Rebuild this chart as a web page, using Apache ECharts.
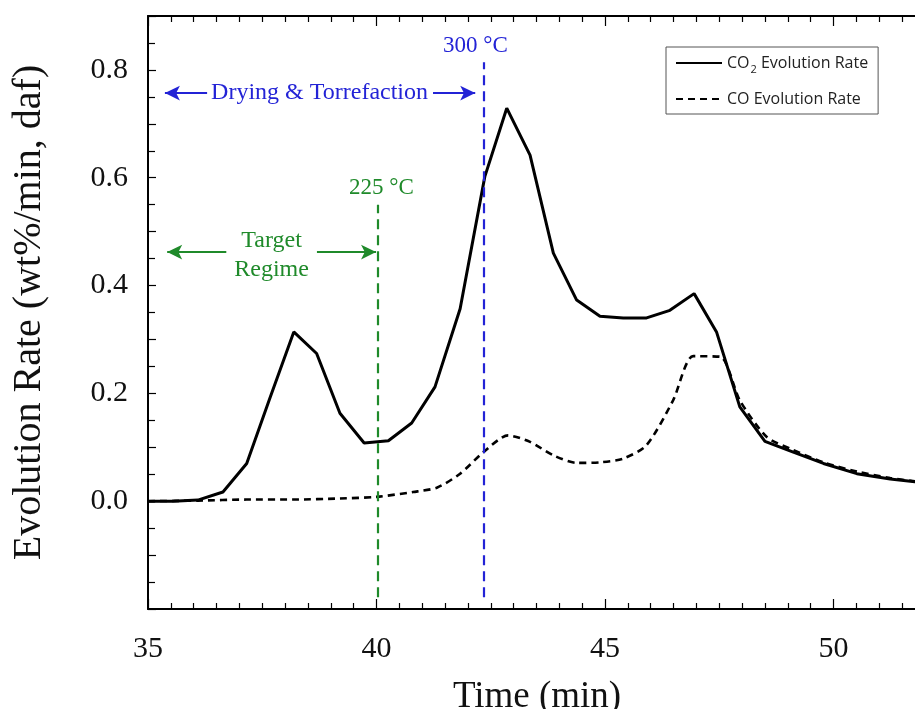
<!DOCTYPE html>
<html>
<head>
<meta charset="utf-8">
<script src="https://cdn.jsdelivr.net/npm/echarts@6/dist/echarts.min.js"></script>
<style>
html, body { margin: 0; padding: 0; background: #fff; }
#main { width: 915px; height: 709px; }
</style>
</head>
<body>
<div id="main"></div>
<script>
// CO2 evolution rate (time in min, wt%/min daf)
var co2Time = [35.0, 35.55, 36.09, 36.64, 37.16, 37.67, 38.19, 38.69, 39.20, 39.73, 40.26, 40.77, 41.28, 41.83, 42.37, 42.85, 43.36, 43.87, 44.38, 44.89, 45.40, 45.91, 46.42, 46.95, 47.44, 47.95, 48.50, 49.12, 49.78, 50.51, 51.24, 51.78, 52.2];
var co2Rate = [0.0, 0.0, 0.002, 0.017, 0.070, 0.192, 0.314, 0.274, 0.163, 0.108, 0.112, 0.145, 0.212, 0.357, 0.602, 0.729, 0.642, 0.460, 0.373, 0.343, 0.340, 0.340, 0.354, 0.385, 0.314, 0.175, 0.111, 0.091, 0.070, 0.051, 0.041, 0.036, 0.033];
// CO evolution rate
var coTime = [35.0, 36.09, 37.16, 38.19, 39.20, 40.0, 40.80, 41.32, 41.83, 42.34, 42.88, 43.36, 43.87, 44.38, 44.89, 45.40, 45.91, 46.49, 46.93, 47.52, 47.95, 48.54, 49.12, 49.78, 50.51, 51.24, 51.78, 52.2];
var coRate = [0.0, 0.001, 0.003, 0.003, 0.005, 0.008, 0.017, 0.025, 0.051, 0.091, 0.122, 0.110, 0.085, 0.071, 0.072, 0.079, 0.104, 0.187, 0.269, 0.268, 0.187, 0.119, 0.095, 0.072, 0.055, 0.043, 0.037, 0.034];

var seriesNames = ['CO2 Evolution Rate', 'CO Evolution Rate'];
var yTickLabels = ['0.0', '0.2', '0.4', '0.6', '0.8'];

// annotation positions (time, rate)
var line300 = 42.34, line225 = 40.02;
var dryingSpan = [35.37, 42.16], dryingLevel = 0.757;
var targetSpan = [35.42, 39.99], targetLevel = 0.462;

var blue = '#2323d6', green = '#1f8a2a';
var serif = '"Liberation Serif", "Times New Roman", serif';
var sans = '"Open Sans", "Liberation Sans", sans-serif';

function pairs(xs, ys) {
	var out = [];
	for (var i = 0; i < xs.length; i++) out.push([xs[i], ys[i]]);
	return out;
}

var chart = echarts.init(document.getElementById('main'));

var axisCommon = {
	type: 'value',
	min: 35,
	max: 55,
	interval: 5,
	axisLine: { onZero: false, lineStyle: { color: '#000', width: 2 } },
	axisTick: { inside: true, length: 10, lineStyle: { color: '#000', width: 1.2 } },
	minorTick: { show: true, splitNumber: 10, length: 6, lineStyle: { color: '#000', width: 1.2 } },
	splitLine: { show: false }
};

var option = {
	animation: false,
	backgroundColor: '#fff',
	grid: { left: 148, top: 16, right: -147, bottom: 100, containLabel: false, outerBoundsMode: 'none' },
	legend: {
		left: 666,
		top: 47,
		orient: 'vertical',
		data: seriesNames,
		itemWidth: 46,
		itemHeight: 14,
		itemGap: 16,
		padding: [8, 10, 7, 9],
		borderColor: '#555',
		borderWidth: 1,
		itemStyle: { color: 'rgba(0,0,0,0)', borderWidth: 0 },
		textStyle: {
			fontFamily: sans,
			fontSize: 16,
			color: '#222',
			rich: {
				s: { fontSize: 11, padding: [13, 0, 0, 1], fontFamily: sans, color: '#222' },
				t: { fontSize: 16, fontFamily: sans, color: '#222' }
			}
		},
		formatter: function (name) {
			if (name === 'CO2 Evolution Rate') return '{t|CO}{s|2}{t| Evolution Rate}';
			return '{t|' + name + '}';
		}
	},
	xAxis: [
		Object.assign({}, axisCommon, {
			position: 'bottom',
			name: 'Time (min)',
			nameLocation: 'middle',
			nameGap: 70,
			nameTextStyle: { fontFamily: serif, fontSize: 37, color: '#111', padding: [0, 136, 0, 0] },
			axisLabel: { fontFamily: serif, fontSize: 30, color: '#111', margin: 25 }
		}),
		Object.assign({}, axisCommon, {
			position: 'top',
			axisLabel: { show: false }
		})
	],
	yAxis: {
		type: 'value',
		min: -0.2,
		max: 0.9,
		interval: 0.1,
		name: 'Evolution Rate (wt%/min, daf)',
		nameLocation: 'middle',
		nameRotate: 90,
		nameGap: 99,
		nameTextStyle: { fontFamily: serif, fontSize: 40, color: '#111' },
		axisLine: { show: true, onZero: false, lineStyle: { color: '#000', width: 2 } },
		axisTick: { inside: true, length: 8, lineStyle: { color: '#000', width: 1.2 } },
		minorTick: { show: true, splitNumber: 2, length: 7, lineStyle: { color: '#000', width: 1.2 } },
		splitLine: { show: false },
		axisLabel: {
			fontFamily: serif, fontSize: 30, color: '#111', margin: 20,
			formatter: function (v) {
				var s = v.toFixed(1);
				return yTickLabels.indexOf(s) >= 0 ? s : '';
			}
		}
	},
	series: [
		{
			name: seriesNames[0],
			type: 'line',
			data: pairs(co2Time, co2Rate),
			showSymbol: false,
			symbol: 'none',
			lineStyle: { color: '#000', width: 3 },
			itemStyle: { color: '#000' },
			z: 3,
			markLine: {
				silent: true,
				symbol: 'none',
				animation: false,
				data: [
					[
						{ coord: [line300, -0.178], lineStyle: { color: blue, type: [10, 6], width: 2.2 },
							label: { show: true, position: 'end', formatter: '300 °C', color: blue, fontFamily: serif, fontSize: 23, distance: 5, offset: [-8, 0] } },
						{ coord: [line300, 0.814] }
					],
					[
						{ coord: [line225, -0.178], lineStyle: { color: green, type: [10, 6], width: 2.2 },
							label: { show: true, position: 'end', formatter: '225 °C', color: green, fontFamily: serif, fontSize: 23, distance: 5, offset: [4, 0] } },
						{ coord: [line225, 0.55] }
					],
					[
						{ coord: [dryingSpan[0], dryingLevel], symbol: 'arrow', symbolSize: [11, 15],
							lineStyle: { color: blue, type: 'solid', width: 2 },
							label: { show: true, position: 'middle', formatter: 'Drying & Torrefaction', color: blue, fontFamily: serif, fontSize: 24,
								verticalAlign: 'middle', backgroundColor: '#fff', padding: [2, 5, 2, 4], distance: 0 } },
						{ coord: [dryingSpan[1], dryingLevel], symbol: 'arrow', symbolSize: [11, 15] }
					],
					[
						{ coord: [targetSpan[0], targetLevel], symbol: 'arrow', symbolSize: [11, 15],
							lineStyle: { color: green, type: 'solid', width: 2 },
							label: { show: true, position: 'middle', formatter: 'Target\nRegime', color: green, fontFamily: serif, fontSize: 24, lineHeight: 29,
								verticalAlign: 'middle', backgroundColor: '#fff', padding: [0, 8, 0, 8], distance: 0, offset: [0, 3] } },
						{ coord: [targetSpan[1], targetLevel], symbol: 'arrow', symbolSize: [11, 15] }
					]
				]
			}
		},
		{
			name: seriesNames[1],
			type: 'line',
			data: pairs(coTime, coRate),
			showSymbol: false,
			symbol: 'none',
			smooth: 0.25,
			lineStyle: { color: '#000', width: 2.6, type: [7, 5] },
			itemStyle: { color: '#000' },
			z: 2
		}
	]
};

chart.setOption(option);
</script>
</body>
</html>
